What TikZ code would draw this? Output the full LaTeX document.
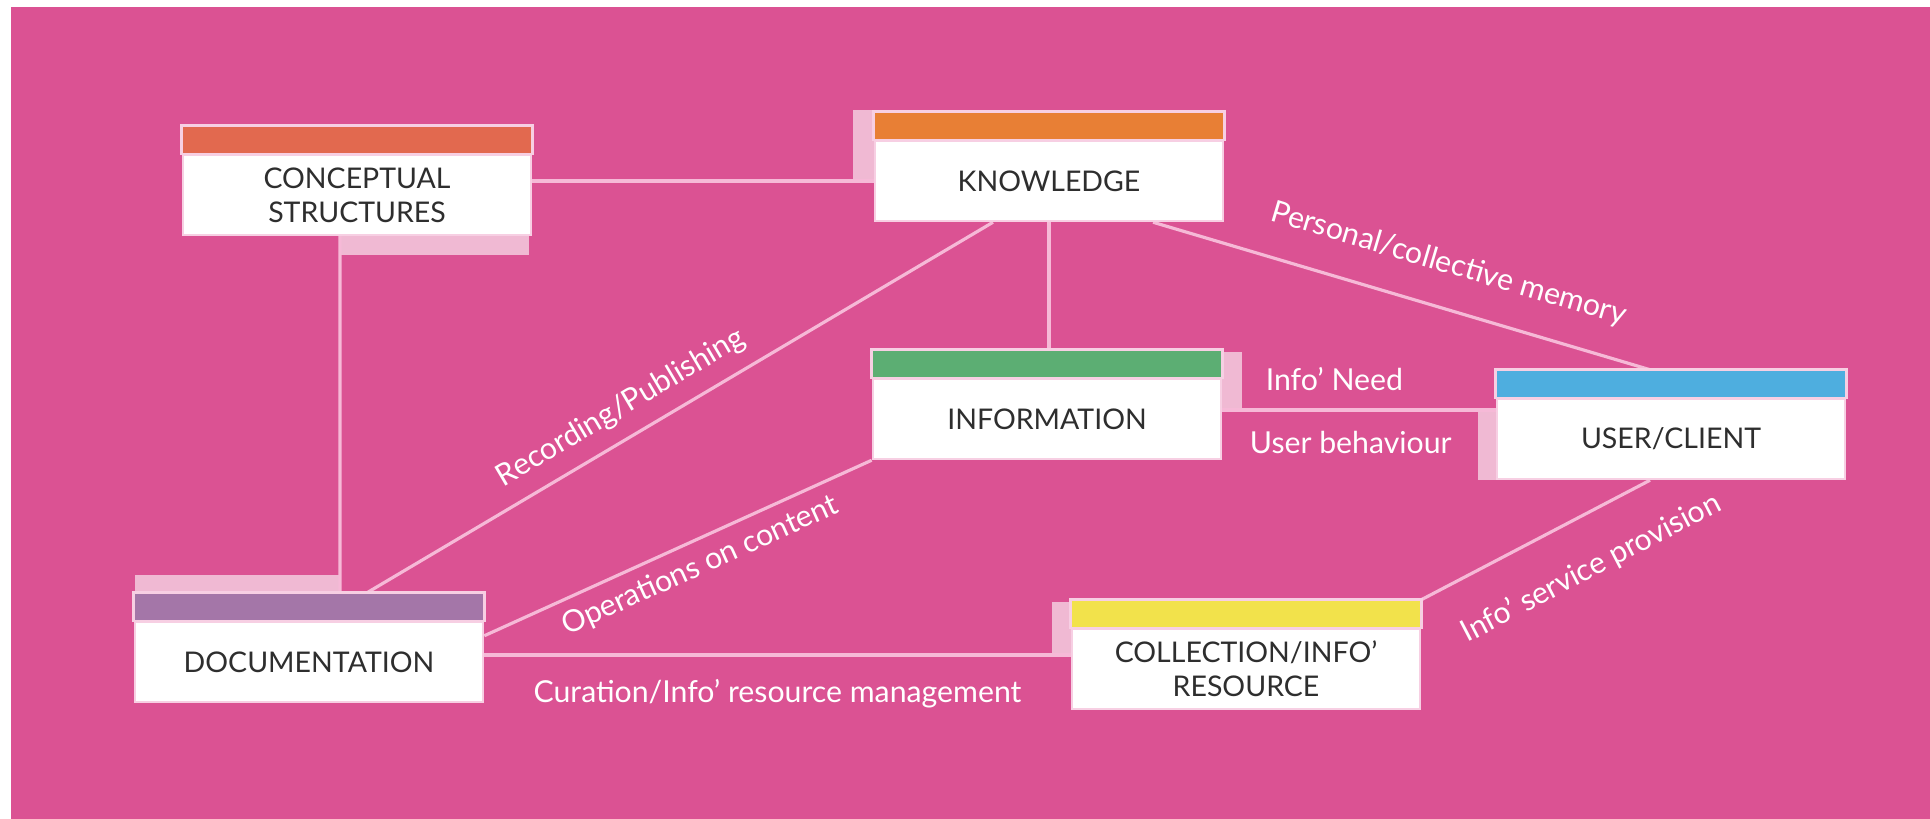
\documentclass[tikz,border=0pt]{standalone}
\usepackage{fontspec}
\setmainfont{Lato}
\usetikzlibrary{positioning}

\pgfdeclarelayer{background}
\pgfdeclarelayer{lines}
\pgfsetlayers{background,lines,main}

\definecolor{bgpink}{HTML}{DB5293}
\definecolor{linkpink}{HTML}{F6B9D7}
\definecolor{tabpink}{HTML}{F0B9D3}
\definecolor{boxedge}{HTML}{F7CFE3}
\definecolor{boxtext}{HTML}{2E2E2E}
\definecolor{csred}{HTML}{E2694F}
\definecolor{knorange}{HTML}{E87F35}
\definecolor{ingreen}{HTML}{5CAE73}
\definecolor{usblue}{HTML}{4EAEDF}
\definecolor{dopurple}{HTML}{A476A8}
\definecolor{coyellow}{HTML}{F2E24B}

\begin{document}
\begin{tikzpicture}[x=0.01cm, y=-0.01cm]
        \tikzset{
            % Define style for boxes
            topic/.style={
                    rectangle,
                    fill=white,
                    draw=boxedge, line width=0.7pt,
                    minimum width=3.48cm,
                    minimum height=0.8cm,
                    align=center,
                    text=boxtext,
                    font=\fontsize{8.1}{9.6}\selectfont,
                    append after command={\pgfextra{
                        \fill[#1, draw=boxedge, line width=0.7pt]
                        ([yshift=0.28cm]\tikzlastnode.north west) rectangle (\tikzlastnode.north east);}}},
            % Define line style
            link/.style={
                    draw=linkpink,
                    line width=0.9pt},
            % Define style for line labels
            lbl/.style={
                    text=white,
                    inner sep=1pt,
                    font=\fontsize{8.6}{10}\selectfont},
            tab/.style={fill=tabpink},
        }
        \useasboundingbox (0,0) rectangle (1930,819);
        \begin{pgfonlayer}{background}
            \fill[white] (0,0) rectangle (1930,819);
            \fill[bgpink] (11,7) rectangle (1930,819);
        \end{pgfonlayer}

        % Draw the boxes
        \node[topic=csred] (cs) at (357,195) {CONCEPTUAL\\STRUCTURES};
        \node[topic=knorange] (know) at (1049,181) {KNOWLEDGE};
        \node[topic=ingreen] (info) at (1047,419) {INFORMATION};
        \node[topic=usblue] (user) at (1671,439) {USER/CLIENT};
        \node[topic=dopurple] (doc) at (309,662) {DOCUMENTATION};
        \node[topic=coyellow] (coll) at (1246,669) {COLLECTION/INFO'\\RESOURCE};

        \begin{pgfonlayer}{lines}
            % Tabs where the lines meet the boxes
            \fill[tab] (339,235) rectangle (529,255);
            \fill[tab] (853,110) rectangle (875,182);
            \fill[tab] (1222,352) rectangle (1242,410);
            \fill[tab] (1478,412) rectangle (1497,480);
            \fill[tab] (135,575) rectangle (340,595);
            \fill[tab] (1052,602) rectangle (1073,657);

            % Connect the boxes
            \draw[link] (know.west -| cs.east) -- (know.west);
            \draw[link] ([xshift=-0.17cm]cs.south) -- ([xshift=0.31cm]doc.north);
            \draw[link] ([xshift=0.58cm,yshift=0.28cm]doc.north)
                -- node[lbl, sloped, above=3pt, pos=0.43] (rec) {Recording/Publishing}
                ([xshift=-0.56cm]know.south);
            \draw[link] (know.south) -- (know.south |- info.north);
            \draw[link] ([xshift=1.04cm]know.south)
                -- node[lbl, sloped, above=7pt, pos=0.57] (mem) {Personal/collective memory}
                ([xshift=-0.21cm,yshift=0.28cm]user.north);
            \draw[link] ([yshift=-0.15cm]doc.north east)
                -- node[lbl, sloped, below=2pt, pos=0.53] (ops) {Operations on content}
                (info.south west);
            \draw[link] ([yshift=0.09cm]info.east)
                -- node[lbl, above=4pt, pos=0.41] (need) {Info' Need}
                   node[lbl, below=4.5pt, pos=0.47] (beh) {User behaviour}
                ([yshift=0.09cm]info.east -| user.west);
            \draw[link] ([yshift=0.07cm]doc.east)
                -- node[lbl, below=5.5pt] (cur) {Curation/Info' resource management}
                ([yshift=0.07cm]doc.east -| coll.west);
            \draw[link] ([yshift=0.28cm]coll.north east)
                -- node[lbl, sloped, below=9pt, pos=0.64] (serv) {Info' service provision}
                ([xshift=-0.21cm]user.south);
        \end{pgfonlayer}

    \end{tikzpicture}
\end{document}
